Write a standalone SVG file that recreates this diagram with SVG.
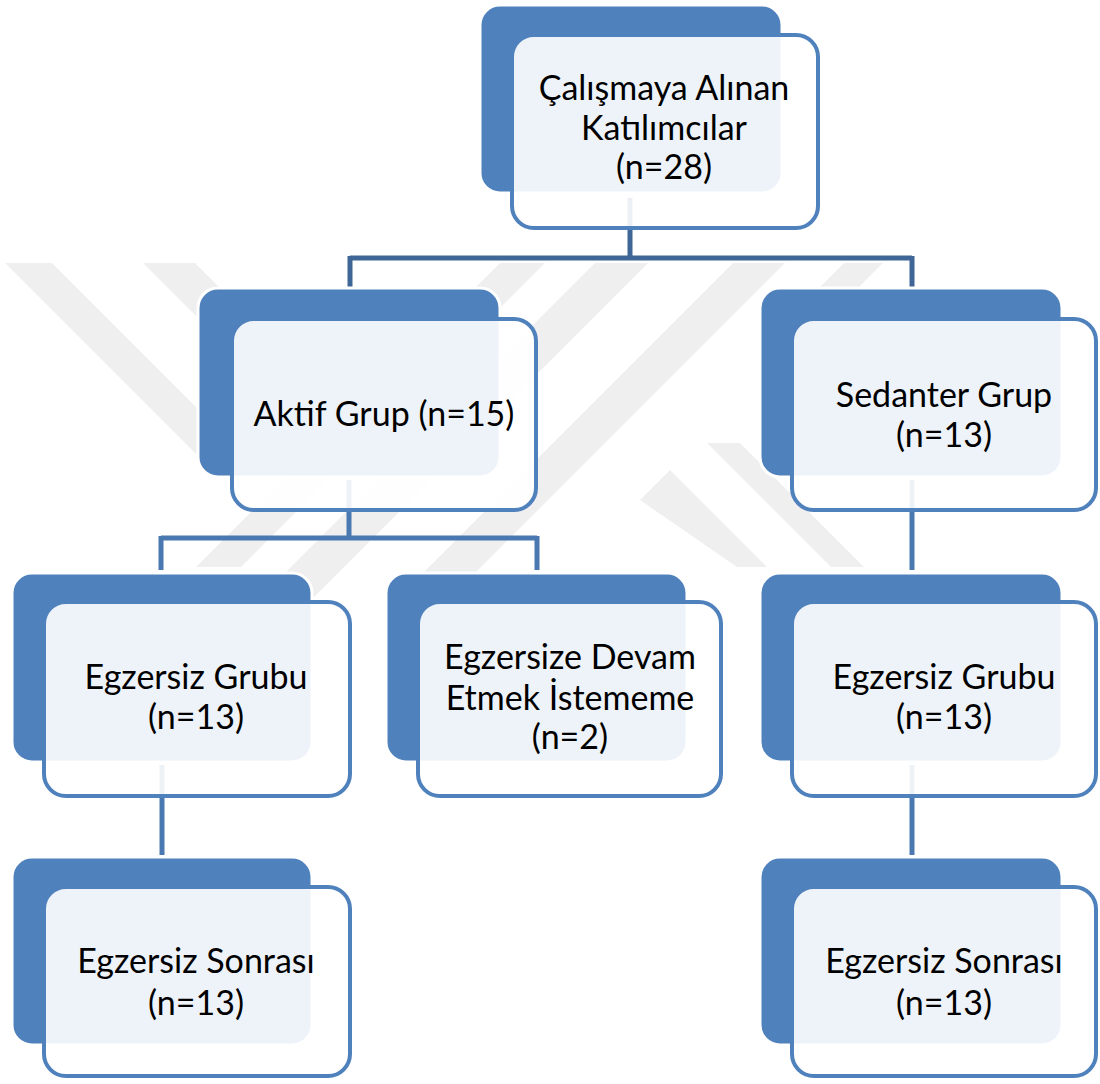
<svg xmlns="http://www.w3.org/2000/svg" width="1100" height="1084" viewBox="0 0 1100 1084">
  <defs>
    <style>
      .wm { fill: #efefef; }
      .back { fill: #4f81bd; stroke: #ffffff; stroke-width: 3; }
      .front { fill: #ffffff; fill-opacity: 0.9; stroke: #4f81bd; stroke-width: 4; }
      .conn { fill: none; stroke: #4a78b0; stroke-width: 5; }
      .conn-top { fill: none; stroke: #3e6696; stroke-width: 5; }
      .lbl { font-family: Lato, "Liberation Sans", sans-serif; font-size: 34px; fill: #000000; text-anchor: middle; }
    </style>
  </defs>
  <rect x="0" y="0" width="1100" height="1084" fill="#ffffff"/>

  <g id="watermark">
    <polygon class="wm" points="5,263 52,263 252,463 205,463"/>
    <polygon class="wm" points="143,263 195,263 260,328 208,328"/>
    <polygon class="wm" points="500,263 545,263 241,567 196,567"/>
    <polygon class="wm" points="595,263 648,263 290,621 237,621"/>
    <polygon class="wm" points="733,263 785,263 440,608 388,608"/>
    <polygon class="wm" points="844,263 883,263 820,326 781,326"/>
    <polygon class="wm" points="707,443 740,443 864,567 831,567"/>
    <polygon class="wm" points="640,500 670,470 767,567 737,567"/>
  </g>

  <g id="connectors">
    <path class="conn-top" d="M630,198 V258 M350,258 H912 M350,256 V287 M912,256 V287"/>
    <path class="conn" d="M349,480 V538 M161,538 H537 M161,536 V570 M537,536 V570"/>
    <path class="conn" d="M912,480 V570"/>
    <path class="conn" d="M162,765 V855"/>
    <path class="conn" d="M912,765 V855"/>
  </g>

  <g id="node-root">
    <rect class="back" x="480" y="5" width="302" height="188" rx="20"/>
    <rect class="front" x="512" y="35" width="306" height="193" rx="22"/>
    <text class="lbl" x="664" y="100">Çalışmaya Alınan</text>
    <text class="lbl" x="664" y="140">Katılımcılar</text>
    <text class="lbl" x="664" y="179">(n=28)</text>
  </g>

  <g id="node-aktif">
    <rect class="back" x="198" y="288" width="302" height="189" rx="20"/>
    <rect class="front" x="232" y="319" width="304" height="191" rx="22"/>
    <text class="lbl" x="384" y="426">Aktif Grup (n=15)</text>
  </g>

  <g id="node-sedanter">
    <rect class="back" x="760" y="288" width="302" height="189" rx="20"/>
    <rect class="front" x="792" y="319" width="304" height="191" rx="22"/>
    <text class="lbl" x="944" y="407">Sedanter Grup</text>
    <text class="lbl" x="944" y="447">(n=13)</text>
  </g>

  <g id="node-egzersiz-grubu-left">
    <rect class="back" x="12" y="573" width="300" height="189" rx="20"/>
    <rect class="front" x="44" y="602" width="306" height="194" rx="22"/>
    <text class="lbl" x="196" y="689">Egzersiz Grubu</text>
    <text class="lbl" x="196" y="729">(n=13)</text>
  </g>

  <g id="node-devam">
    <rect class="back" x="386" y="573" width="301" height="189" rx="20"/>
    <rect class="front" x="418" y="602" width="303" height="194" rx="22"/>
    <text class="lbl" x="570" y="669">Egzersize Devam</text>
    <text class="lbl" x="570" y="710">Etmek İstememe</text>
    <text class="lbl" x="570" y="749">(n=2)</text>
  </g>

  <g id="node-egzersiz-grubu-right">
    <rect class="back" x="760" y="573" width="302" height="189" rx="20"/>
    <rect class="front" x="792" y="602" width="304" height="194" rx="22"/>
    <text class="lbl" x="944" y="689">Egzersiz Grubu</text>
    <text class="lbl" x="944" y="729">(n=13)</text>
  </g>

  <g id="node-sonrasi-left">
    <rect class="back" x="12" y="857" width="300" height="188" rx="20"/>
    <rect class="front" x="44" y="887" width="306" height="189" rx="22"/>
    <text class="lbl" x="196" y="973">Egzersiz Sonrası</text>
    <text class="lbl" x="196" y="1015">(n=13)</text>
  </g>

  <g id="node-sonrasi-right">
    <rect class="back" x="760" y="857" width="302" height="188" rx="20"/>
    <rect class="front" x="792" y="887" width="304" height="189" rx="22"/>
    <text class="lbl" x="944" y="973">Egzersiz Sonrası</text>
    <text class="lbl" x="944" y="1015">(n=13)</text>
  </g>
</svg>
